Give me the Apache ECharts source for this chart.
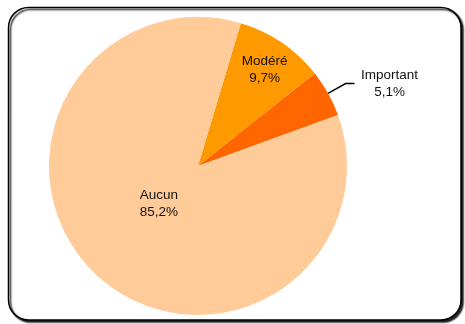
<!DOCTYPE html>
<html><head><meta charset="utf-8">
<script src="https://cdn.jsdelivr.net/npm/echarts@6/dist/echarts.min.js"></script>
<style>html,body{margin:0;padding:0;background:#fff}#c{width:465px;height:324px}</style>
</head><body><div id="c"></div>
<script>
const categories = ['Modéré', 'Important', 'Aucun'];
const values = [9.7, 5.1, 85.2];
const labels = ['9,7%', '5,1%', '85,2%'];
const colors = ['#FF9900', '#FF6600', '#FFCC99'];

const chart = echarts.init(document.getElementById('c'), null, {renderer: 'canvas'});
const offsets = {0: [23, -32], 2: [14, -19]};
chart.setOption({
  animation: false,
  graphic: [{
    type: 'rect',
    shape: {x: 8.5, y: 7.5, width: 452.5, height: 312.5, r: 20},
    style: {fill: '#fff', stroke: '#000', lineWidth: 1.5,
      shadowColor: 'rgba(0,0,0,0.85)', shadowOffsetX: 2, shadowOffsetY: 2, shadowBlur: 1.5},
    z: -10
  }],
  series: [{
    type: 'pie',
    center: [198, 166],
    radius: 149,
    startAngle: 73.3,
    clockwise: true,
    silent: true,
    data: categories.map((c, i) => ({
      name: c, value: values[i],
      itemStyle: {color: colors[i]},
      label: i === 1 ? {
        position: 'outside',
        distanceToLabelLine: 4,
        formatter: '{a|' + c + '}\n{a|' + labels[i] + '}',
        rich: {a: {width: 62, align: 'center', fontSize: 13.5, lineHeight: 17, color: '#111', fontFamily: 'Liberation Sans, Arial'}}
      } : {
        position: 'inside',
        formatter: c + '\n' + labels[i]
      },
      labelLine: {show: i === 1, length: 20, length2: 9, lineStyle: {color: '#000', width: 1.5}}
    })),
    label: {fontSize: 13.5, lineHeight: 17, color: '#111', fontFamily: 'Liberation Sans, Arial', align: 'center'},
    labelLayout: function (p) {
      const o = offsets[p.dataIndex];
      return o ? {dx: o[0], dy: o[1]} : {};
    }
  }]
});
</script></body></html>
